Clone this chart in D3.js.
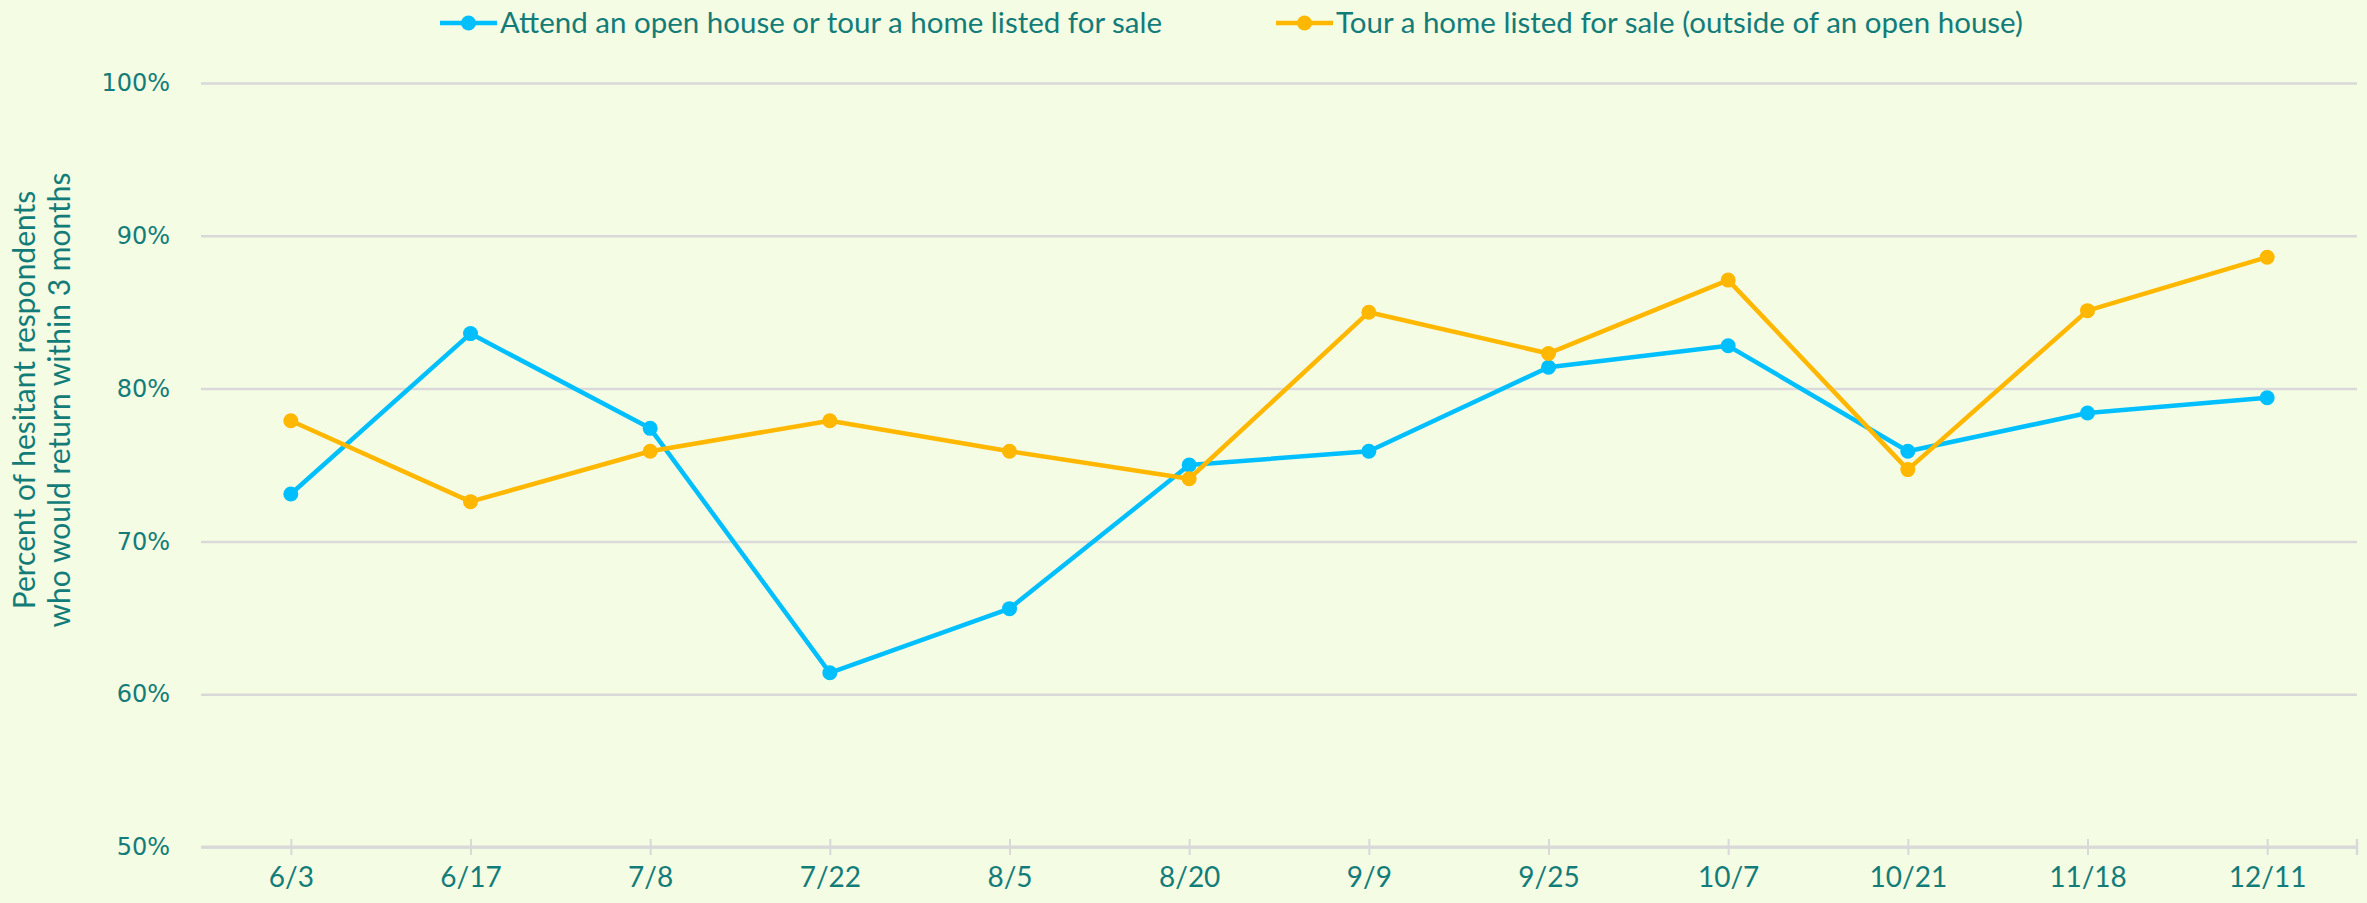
<!DOCTYPE html>
<html>
<head>
<meta charset="utf-8">
<script src="https://cdn.jsdelivr.net/npm/d3@7"></script>
<style>
  body { margin: 0; background: #f4fde3; }
  svg { display: block; }
</style>
</head>
<body>
<svg id="chart" width="2367" height="903"></svg>
<script>
// dates of each survey wave
const categories = ["6/3", "6/17", "7/8", "7/22", "8/5", "8/20", "9/9", "9/25", "10/7", "10/21", "11/18", "12/11"];

// share of hesitant respondents who would return within 3 months
const attendValues = [0.731, 0.836, 0.774, 0.614, 0.656, 0.750, 0.759, 0.814, 0.828, 0.759, 0.784, 0.794];
const tourValues   = [0.779, 0.726, 0.759, 0.779, 0.759, 0.741, 0.850, 0.823, 0.871, 0.747, 0.851, 0.886];

const yTicks = [0.5, 0.6, 0.7, 0.8, 0.9, 1.0];

const seriesNames = ["Attend an open house or tour a home listed for sale",
                     "Tour a home listed for sale (outside of an open house)"];
const seriesColors = ["#00bfff", "#ffb700"];

const textColor = "#137c79";
const gridColor = "#d9d9d9";

const svg = d3.select("#chart");

const plotLeft = 201, plotRight = 2357, plotTop = 83, plotBottom = 847;

var x = d3.scalePoint().domain(categories).range([plotLeft, plotRight]).padding(0.5);
var y = d3.scaleLinear().domain([0.5, 1.0]).range([plotBottom, plotTop]);

// gridlines + y labels
var yAxis = svg.append("g")
  .attr("transform", `translate(${plotLeft},0)`)
  .call(d3.axisLeft(y)
    .tickValues(yTicks)
    .tickFormat(d3.format(".0%"))
    .tickSize(-(plotRight - plotLeft))
    .tickPadding(31));
yAxis.select(".domain").remove();
yAxis.selectAll(".tick line").attr("stroke", gridColor).attr("stroke-width", 2.5);
yAxis.selectAll(".tick text")
  .attr("font-family", "DejaVu Sans")
  .attr("font-size", 24)
  .attr("fill", textColor);

// x axis
var xAxis = svg.append("g")
  .attr("transform", `translate(0,${plotBottom})`)
  .call(d3.axisBottom(x).tickSize(0).tickPadding(20));
xAxis.select(".domain").attr("stroke", gridColor).attr("stroke-width", 3)
  .attr("d", `M${plotLeft},0H${plotRight}`);
xAxis.selectAll(".tick text")
  .attr("font-family", "Lato")
  .attr("font-size", 28)
  .attr("fill", textColor);
xAxis.selectAll(".tick").append("line")
  .attr("y1", -8).attr("y2", 8)
  .attr("stroke", gridColor).attr("stroke-width", 2);
xAxis.append("line")
  .attr("x1", plotRight).attr("x2", plotRight)
  .attr("y1", -8).attr("y2", 8)
  .attr("stroke", gridColor).attr("stroke-width", 2.5);

// y axis title
var yTitle = svg.append("text")
  .attr("transform", "translate(24,400) rotate(-90)")
  .attr("text-anchor", "middle")
  .attr("font-family", "Lato")
  .attr("font-size", 30)
  .attr("fill", textColor);
yTitle.append("tspan").attr("x", 0).attr("dy", "0.35em").text("Percent of hesitant respondents");
yTitle.append("tspan").attr("x", 0).attr("dy", "1.17em").text("who would return within 3 months");

// series
var line = d3.line()
  .x((d, i) => x(categories[i]))
  .y(d => y(d));

[attendValues, tourValues].forEach(function(values, s)
{
  var g = svg.append("g");
  g.append("path")
    .attr("d", line(values))
    .attr("fill", "none")
    .attr("stroke", seriesColors[s])
    .attr("stroke-width", 4.5)
    .attr("stroke-linejoin", "round");
  g.selectAll("circle")
    .data(values)
    .join("circle")
    .attr("cx", (d, i) => x(categories[i]))
    .attr("cy", d => y(d))
    .attr("r", 7.5)
    .attr("fill", seriesColors[s]);
});

// legend
const legendX = [440, 1276];
seriesNames.forEach(function(name, s)
{
  var g = svg.append("g").attr("transform", `translate(${legendX[s]},23)`);
  g.append("line").attr("x1", 0).attr("x2", 57)
    .attr("stroke", seriesColors[s]).attr("stroke-width", 4.5);
  g.append("circle").attr("cx", 28.5).attr("r", 7.5).attr("fill", seriesColors[s]);
  g.append("text")
    .attr("x", 60).attr("dy", "0.35em")
    .attr("font-family", "Lato")
    .attr("font-size", 29.5)
    .attr("fill", textColor)
    .text(name);
});
</script>
</body>
</html>
